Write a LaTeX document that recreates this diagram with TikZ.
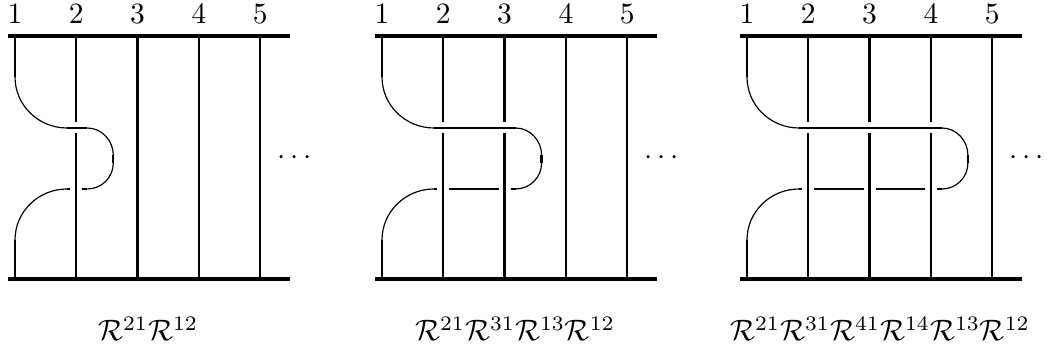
\documentclass[tikz,border=0pt]{standalone}
\tikzset{
  bar/.style={line width=1.36pt},
  strand/.style={line width=0.78pt},
  curvy/.style={line width=0.4pt},
  digit/.style={anchor=base,inner sep=0pt,font=\fontsize{10}{12}\selectfont},
  lab/.style={anchor=base,inner sep=0pt},
  dotsnode/.style={anchor=base,inner sep=0pt}
}
\begin{document}
\begin{tikzpicture}[x=0.339pt,y=-0.339pt]
\useasboundingbox (0,0) rectangle (1047,352);
\foreach \xo/\k/\nm/\txt in {15/1/a/{$\mathcal{R}^{21}\mathcal{R}^{12}$},
                              382/2/b/{$\mathcal{R}^{21}\mathcal{R}^{31}\mathcal{R}^{13}\mathcal{R}^{12}$},
                              747/3/c/{$\mathcal{R}^{21}\mathcal{R}^{31}\mathcal{R}^{41}\mathcal{R}^{14}\mathcal{R}^{13}\mathcal{R}^{12}$}} {
  \pgfmathsetmacro\xe{\xo+61.3*\k+11}
  \pgfmathsetmacro\xl{\xo+61.3*\k+6}
  % horizontal bars
  \draw[bar] (\xo-7,36) -- (\xo+275,36);
  \draw[bar] (\xo-7,279) -- (\xo+275,279);
  % numbers
  \foreach \i in {1,...,5} {
    \pgfmathsetmacro\xs{\xo+61.3*(\i-1)}
    \node[digit] (\nm top\i) at (\xs,24) {\i};
  }
  % vertical strands 2..5
  \foreach \i in {2,...,5} {
    \pgfmathsetmacro\xs{\xo+61.3*(\i-1)}
    \pgfmathtruncatemacro\crossed{\i<=\k+1 ? 1 : 0}
    \ifnum\crossed=1
      \draw[strand] (\xs,36) -- (\xs,122.5);
      \draw[strand] (\xs,133.5) -- (\xs,279);
    \else
      \draw[strand] (\xs,36) -- (\xs,279);
    \fi
  }
  % strand 1
  \draw[strand] (\xo,36) -- (\xo,77);
  \draw[curvy] (\xo,77) .. controls (\xo,105.2) and (\xo+23.3,128) .. (\xo+52,128);
  \draw[strand] (\xo+52,128) -- (\xe,128);
  \draw[curvy] (\xe,128) .. controls (\xe+14.4,128) and (\xe+26,140.6) .. (\xe+26,155);
  \draw[strand] (\xe+26,155) -- (\xe+26,163);
  \draw[curvy] (\xe+26,163) .. controls (\xe+26,177.4) and (\xe+14.4,189) .. (\xe,189);
  \draw[strand] (\xl,189) -- (\xe,189);
  \draw[strand] (\xo+52,189) -- (\xo+55.3,189);
  \ifnum\k>1
    \foreach \j in {2,...,\k} {
      \pgfmathsetmacro\xa{\xo+61.3*(\j-1)+6}
      \pgfmathsetmacro\xb{\xo+61.3*\j-6}
      \draw[strand] (\xa,189) -- (\xb,189);
    }
  \fi
  \draw[curvy] (\xo+52,189) .. controls (\xo+23.3,189) and (\xo,211.8) .. (\xo,240);
  \draw[strand] (\xo,240) -- (\xo,279);
  % dots and label
  \node[dotsnode] (\nm dots) at (\xo+280,164.4) {$\cdots$};
  \node[lab] (\nm lab) at (\xo+133,341) {\txt};
}
\end{tikzpicture}
\end{document}
